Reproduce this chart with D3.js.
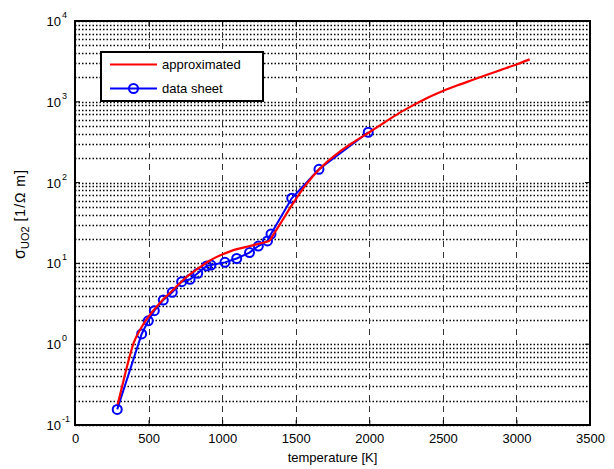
<!DOCTYPE html>
<html>
<head>
<meta charset="utf-8">
<script src="https://cdn.jsdelivr.net/npm/d3@7/dist/d3.min.js"></script>
<style>
  html, body { margin: 0; padding: 0; background: #fff; }
  svg { display: block; font-family: "Liberation Sans", Arial, sans-serif; }
</style>
</head>
<body>
<svg id="chart" width="614" height="469"></svg>
<script>
// ---- data ----
const sheetTemp = [287, 453, 498, 539, 600, 661, 725, 782, 834, 895, 924, 1019, 1099, 1186, 1246, 1308, 1332, 1473, 1658, 1993];
const sheetSigma = [0.156, 1.34, 1.95, 2.6, 3.52, 4.39, 5.94, 6.35, 7.54, 9.3, 9.55, 10.3, 11.5, 13.6, 16.4, 19.0, 23.1, 64, 146, 420];

const approxTemp = [290, 320, 350, 400, 450, 500, 550, 600, 650, 700, 750, 800, 850, 900, 950, 1000, 1050, 1100, 1150, 1200, 1250, 1300, 1320, 1350, 1400, 1450, 1500, 1550, 1600, 1650, 1700, 1800, 1900, 2000, 2100, 2200, 2300, 2400, 2500, 2600, 2700, 2800, 2900, 3000, 3090];
const approxSigma = [0.18, 0.3, 0.5, 1.05, 1.6, 2.2, 2.85, 3.6, 4.4, 5.4, 6.6, 7.8, 9.0, 10.4, 11.7, 12.9, 14.0, 15.0, 15.8, 16.6, 17.5, 18.5, 19.0, 23, 32, 45, 62, 84, 110, 140, 172, 242, 322, 420, 550, 720, 910, 1130, 1360, 1600, 1860, 2160, 2500, 2900, 3350];

const xTicks = [0, 500, 1000, 1500, 2000, 2500, 3000, 3500];
const yExps = [-1, 0, 1, 2, 3, 4];
const legendLabels = ["approximated", "data sheet"];

// ---- layout ----
const svg = d3.select("#chart");
const L = 75, R = 590, T = 21, B = 425;
const x = d3.scaleLinear().domain([0, 3500]).range([L, R]);
const y = d3.scaleLog().domain([0.1, 10000]).range([B, T]);

// grid: horizontal dotted at every log tick
const minor = [];
for (let e = -1; e < 4; e++) for (let m = 1; m <= 9; m++) minor.push(m * Math.pow(10, e));
minor.push(10000);
svg.append("g").selectAll("line").data(minor).join("line")
  .attr("x1", L).attr("x2", R)
  .attr("y1", d => Math.round(y(d)) + 0.5).attr("y2", d => Math.round(y(d)) + 0.5)
  .attr("stroke", "#000").attr("stroke-width", 1.4)
  .attr("stroke-dasharray", "1.5,2");

// vertical dashed grid
svg.append("g").selectAll("line").data(xTicks.slice(1, -1)).join("line")
  .attr("x1", d => Math.round(x(d)) + 0.5).attr("x2", d => Math.round(x(d)) + 0.5)
  .attr("y1", T).attr("y2", B)
  .attr("stroke", "#333").attr("stroke-width", 1)
  .attr("stroke-dasharray", "6,5");

// axes (ticks inward)
const xAxisB = d3.axisBottom(x).tickValues(xTicks).tickSize(-5).tickPadding(9).tickFormat(d3.format("d"));
const gx = svg.append("g").attr("transform", `translate(0,${B})`).call(xAxisB);
gx.select(".domain").remove();
gx.selectAll("line").attr("stroke", "#000");
gx.selectAll("text").attr("font-size", 13).attr("fill", "#000")
  .attr("font-family", "Liberation Sans, Arial, sans-serif");

const gxt = svg.append("g").attr("transform", `translate(0,${T})`)
  .call(d3.axisTop(x).tickValues(xTicks).tickSize(-5).tickFormat(""));
gxt.select(".domain").remove();
gxt.selectAll("line").attr("stroke", "#000");

// y tick labels 10^e
const yl = svg.append("g");
yExps.forEach(e => {
  yl.append("text")
    .attr("x", 61).attr("y", y(Math.pow(10, e)) + 5)
    .attr("text-anchor", "end").attr("font-size", 13).attr("fill", "#000").text("10");
  yl.append("text")
    .attr("x", 62).attr("y", y(Math.pow(10, e)) - 3)
    .attr("font-size", 9).attr("fill", "#000").text(String(e));
});

// y major ticks inward
svg.append("g").selectAll("line").data(yExps.map(e => Math.pow(10, e))).join("line")
  .attr("x1", L).attr("x2", L + 5)
  .attr("y1", d => y(d)).attr("y2", d => y(d)).attr("stroke", "#000");
svg.append("g").selectAll("line").data(yExps.map(e => Math.pow(10, e))).join("line")
  .attr("x1", R).attr("x2", R - 5)
  .attr("y1", d => y(d)).attr("y2", d => y(d)).attr("stroke", "#000");

// data sheet line + circles
const line = d3.line().x(d => x(d[0])).y(d => y(d[1]));
const sheet = sheetTemp.map((t, i) => [t, sheetSigma[i]]);
const approx = approxTemp.map((t, i) => [t, approxSigma[i]]);

svg.append("path").datum(sheet).attr("d", line)
  .attr("fill", "none").attr("stroke", "#0000ff").attr("stroke-width", 2);
svg.append("g").selectAll("circle").data(sheet).join("circle")
  .attr("cx", d => x(d[0])).attr("cy", d => y(d[1])).attr("r", 4.5)
  .attr("fill", "none").attr("stroke", "#0000ff").attr("stroke-width", 2);

svg.append("path").datum(approx).attr("d", d3.line().curve(d3.curveMonotoneX).x(d => x(d[0])).y(d => y(d[1])))
  .attr("fill", "none").attr("stroke", "#ff0000").attr("stroke-width", 2.2);

// frame
svg.append("rect").attr("x", L).attr("y", T).attr("width", R - L).attr("height", B - T)
  .attr("fill", "none").attr("stroke", "#000").attr("stroke-width", 2);

// legend
const lg = svg.append("g");
lg.append("rect").attr("x", 101).attr("y", 52).attr("width", 162).attr("height", 49)
  .attr("fill", "#fff").attr("stroke", "#000").attr("stroke-width", 2);
lg.append("line").attr("x1", 110).attr("x2", 157).attr("y1", 64.5).attr("y2", 64.5)
  .attr("stroke", "#ff0000").attr("stroke-width", 2);
lg.append("line").attr("x1", 110).attr("x2", 157).attr("y1", 88.5).attr("y2", 88.5)
  .attr("stroke", "#0000ff").attr("stroke-width", 2);
lg.append("circle").attr("cx", 133.5).attr("cy", 88.5).attr("r", 4.5)
  .attr("fill", "none").attr("stroke", "#0000ff").attr("stroke-width", 2);
lg.selectAll("text.lab").data(legendLabels).join("text").attr("class", "lab")
  .attr("x", 162).attr("y", (d, i) => 69 + i * 24)
  .attr("font-size", 13).attr("fill", "#000").text(d => d);

// axis titles
svg.append("text").attr("x", (L + R) / 2).attr("y", 462).attr("text-anchor", "middle")
  .attr("font-size", 13).attr("fill", "#000").text("temperature [K]");

const yt = svg.append("text").attr("transform", `translate(25,${214}) rotate(-90)`)
  .attr("text-anchor", "middle").attr("font-size", 14).attr("fill", "#000");
yt.append("tspan").attr("font-size", 16).text("σ");
yt.append("tspan").attr("font-size", 11).attr("dy", 4).text("UO2");
yt.append("tspan").attr("dy", -4).attr("letter-spacing", 1).text(" [1/Ω m]");
</script>
</body>
</html>
